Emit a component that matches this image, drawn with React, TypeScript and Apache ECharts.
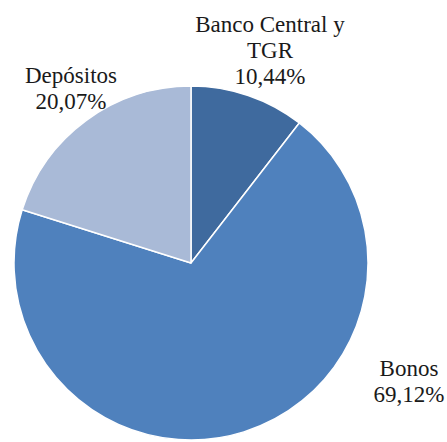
import React, { useEffect, useRef } from "react";
import * as echarts from "echarts";

const categories = ["Banco Central y\nTGR", "Bonos", "Depósitos"];
const values = [10.44, 69.12, 20.07];
const colors = ["#3F6A9E", "#4F81BD", "#A9BAD7"];
const labelPos: [number, number][] = [
  [270, 50],
  [409, 381],
  [71, 88],
];

const FONT = "serif";

export default function App() {
  const ref = useRef<HTMLDivElement>(null);
  useEffect(() => {
    if (!ref.current) return;
    const chart = echarts.init(ref.current, undefined, { renderer: "svg" });
    chart.setOption({
      animation: false,
      backgroundColor: "#ffffff",
      textStyle: { fontFamily: FONT },
      series: [
        {
          type: "pie",
          center: [191, 263],
          radius: 177,
          startAngle: 90,
          clockwise: true,
          avoidLabelOverlap: false,
          itemStyle: { borderColor: "#ffffff", borderWidth: 1.5 },
          label: {
            show: true,
            position: "outside",
            fontFamily: FONT,
            fontSize: 23,
            lineHeight: 26,
            color: "#1a1a1a",
            align: "center",
            verticalAlign: "middle",
            formatter: (p: any) =>
              "{t|" + p.name.split("\n").join("}\n{t|") + "}\n{t|" +
              p.value.toFixed(2).replace(".", ",") + "%}",
            rich: {
              t: {
                fontFamily: FONT,
                fontSize: 23,
                lineHeight: 26,
                color: "#1a1a1a",
                align: "center",
              },
            },
          },
          labelLine: { show: false },
          labelLayout: (p: any) => {
            const pos = labelPos[p.dataIndex];
            return { x: pos[0], y: pos[1], align: "center", verticalAlign: "middle" };
          },
          data: categories.map((name, i) => ({
            name,
            value: values[i],
            itemStyle: { color: colors[i] },
          })),
        },
      ],
    });
    return () => chart.dispose();
  }, []);
  return (
    <div
      ref={ref}
      style={{ position: "fixed", left: 0, top: 0, width: 447, height: 442 }}
    />
  );
}
